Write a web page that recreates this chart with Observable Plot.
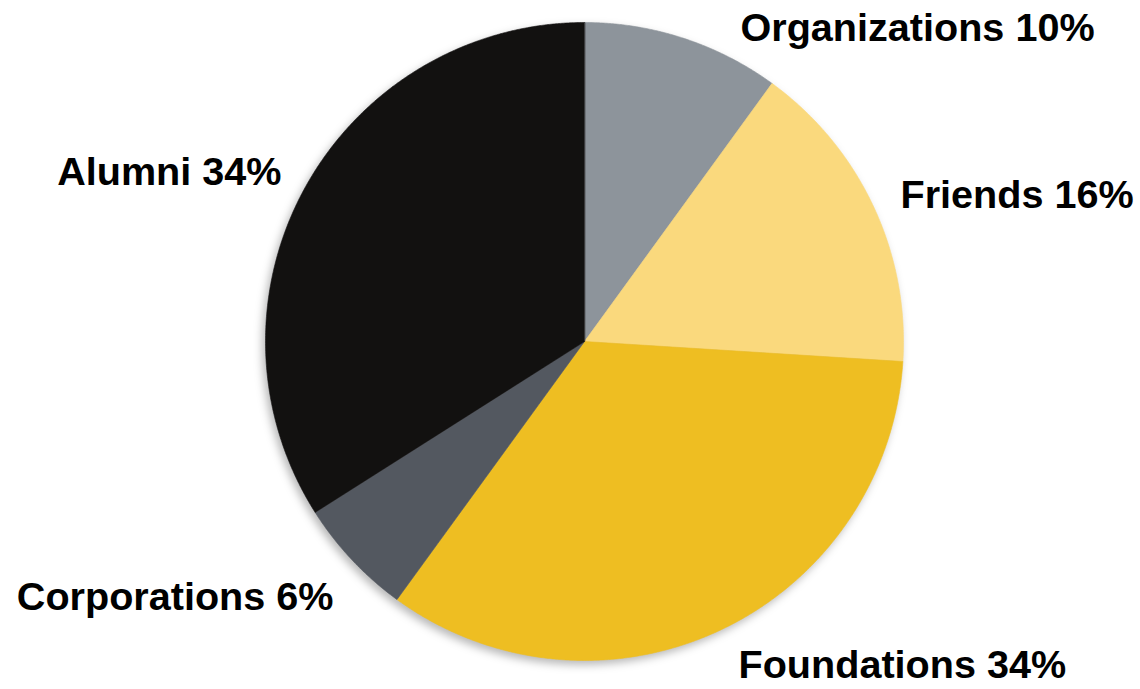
<!DOCTYPE html>
<html>
<head>
<meta charset="utf-8">
<script src="https://cdn.jsdelivr.net/npm/d3@7"></script>
<script src="https://cdn.jsdelivr.net/npm/@observablehq/plot@0.6"></script>
<style>
  html, body { margin: 0; padding: 0; background: #ffffff; }
  #chart { width: 1140px; height: 689px; }
</style>
</head>
<body>
<div id="chart"></div>
<script>
// ---- Data ----
const categories = ["Organizations", "Friends", "Foundations", "Corporations", "Alumni"];
const shares = [10, 16, 34, 6, 34];
const colors = ["#8d949b", "#fad97d", "#eebe22", "#535860", "#121110"];

// ---- Layout (not data) ----
const W = 1140, H = 689;
const cx = 584, cy = 341, R = 319;
// label anchor points relative to the pie centre (y up) and text anchor
const labelLayout = [
  {dx: 156, dy: 313, anchor: "start"},
  {dx: 316, dy: 146, anchor: "start"},
  {dx: 154, dy: -324, anchor: "start"},
  {dx: -251, dy: -256, anchor: "end"},
  {dx: -303, dy: 169, anchor: "end"}
];

const pie = d3.pie().sort(null).value(d => d.value)(
  categories.map((c, i) => ({category: c, value: shares[i]}))
);

// polygon outline for each slice (arc sampled finely)
const slicePts = [];
pie.forEach(p => {
  slicePts.push({category: p.data.category, x: 0, y: 0});
  const n = Math.max(2, Math.ceil((p.endAngle - p.startAngle) / 0.005));
  for (let k = 0; k <= n; k++) {
    const a = p.startAngle + (p.endAngle - p.startAngle) * k / n;
    slicePts.push({category: p.data.category, x: R * Math.sin(a), y: R * Math.cos(a)});
  }
});

const labels = categories.map((c, i) => ({
  text: `${c} ${shares[i]}%`,
  x: labelLayout[i].dx, y: labelLayout[i].dy, anchor: labelLayout[i].anchor
}));

const chart = Plot.plot({
  width: W, height: H,
  margin: 0,
  x: {domain: [-cx, W - cx], range: [0, W], axis: null},
  y: {domain: [cy - H, cy], range: [H, 0], axis: null},
  color: {domain: categories, range: colors},
  style: {fontFamily: "'Liberation Sans', Arial, sans-serif", background: "#ffffff"},
  marks: [
    Plot.line(slicePts, {x: "x", y: "y", z: "category", fill: "category", stroke: "category", strokeWidth: 0.6, curve: "linear-closed"}),
    Plot.text(labels.filter(d => d.anchor === "start"), {x: "x", y: "y", text: "text", textAnchor: "start", fontSize: 39.6, fontWeight: "bold", fill: "#000"}),
    Plot.text(labels.filter(d => d.anchor === "end"), {x: "x", y: "y", text: "text", textAnchor: "end", fontSize: 39.6, fontWeight: "bold", fill: "#000"})
  ]
});
const lineG = chart.querySelector('g[aria-label="line"]');
if (lineG) lineG.style.filter = "drop-shadow(-3px 4px 4px rgba(0,0,0,0.28))";
document.getElementById("chart").append(chart);
</script>
</body>
</html>
